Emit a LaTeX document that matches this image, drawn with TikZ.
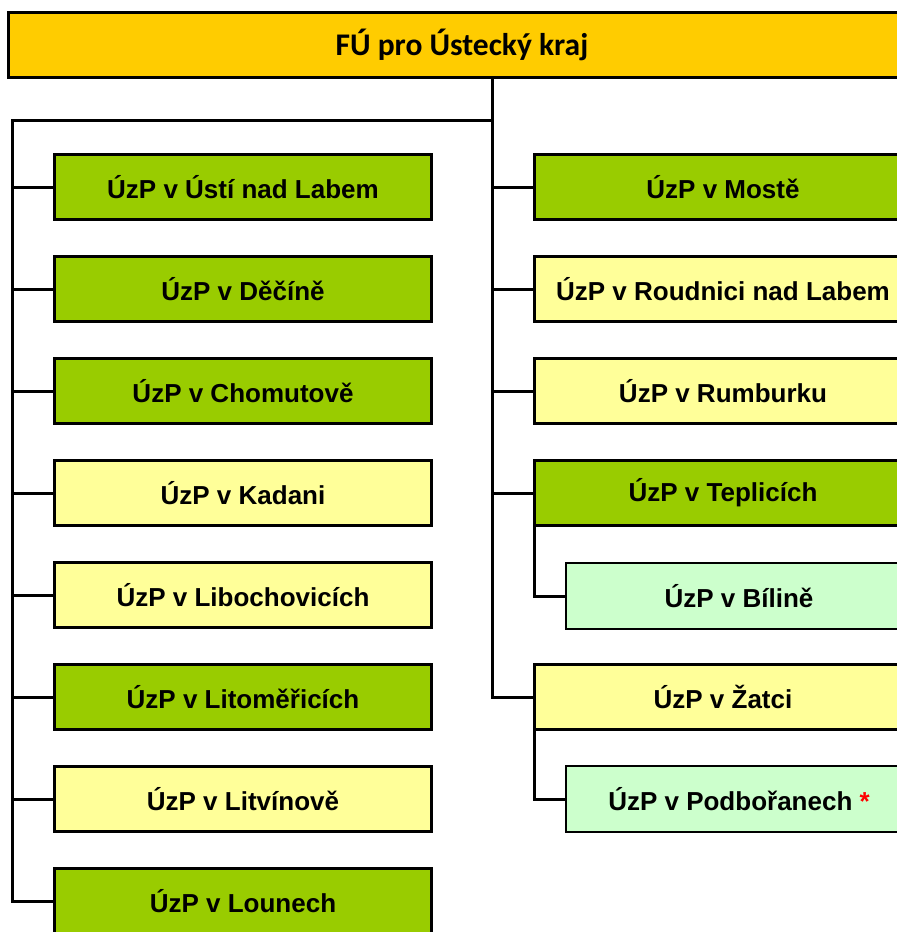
\documentclass[tikz,border=0pt]{standalone}
\usepackage{fontspec}
\setmainfont{Liberation Sans}
\newfontfamily\topfont{Carlito}
\definecolor{topc}{HTML}{FFCC00}
\definecolor{darkg}{HTML}{99CC00}
\definecolor{lighty}{HTML}{FFFF99}
\definecolor{lightg}{HTML}{CCFFCC}
\begin{document}
\begin{tikzpicture}[x=1pt,y=-1pt,
  box/.style={draw=black,line width=3pt,minimum width=377pt,minimum height=65pt,
    inner sep=0pt,outer sep=0pt,font=\fontsize{26}{30}\selectfont\bfseries,anchor=center},
  gbox/.style={box,fill=darkg},
  ybox/.style={box,fill=lighty},
  sbox/.style={box,fill=lightg,line width=2pt,minimum width=347pt,minimum height=66pt},
  conn/.style={draw=black,line width=3pt,line cap=rect}]
\clip (0,0) rectangle (897,932);
\fill[white] (0,0) rectangle (897,932);
\node[draw=black,line width=3pt,fill=topc,minimum width=907pt,minimum height=65pt,inner sep=0pt,outer sep=0pt,
  font=\topfont\fontsize{31.5}{36}\selectfont\bfseries] (fu) at (462,45) {FÚ pro Ústecký kraj};
% left column
\node[gbox] (l1) at (243,187) {ÚzP v Ústí nad Labem};
\node[gbox] (l2) at (243,289) {ÚzP v Děčíně};
\node[gbox] (l3) at (243,391) {ÚzP v Chomutově};
\node[ybox] (l4) at (243,493) {ÚzP v Kadani};
\node[ybox] (l5) at (243,595) {ÚzP v Libochovicích};
\node[gbox] (l6) at (243,697) {ÚzP v Litoměřicích};
\node[ybox] (l7) at (243,799) {ÚzP v Litvínově};
\node[gbox] (l8) at (243,901) {ÚzP v Lounech};
% right column
\node[gbox] (r1) at (723,187) {ÚzP v Mostě};
\node[ybox] (r2) at (723,289) {ÚzP v Roudnici nad Labem};
\node[ybox] (r3) at (723,391) {ÚzP v Rumburku};
\node[gbox] (r4) at (723,493) {ÚzP v Teplicích};
\node[sbox] (s1) at (739,596) {ÚzP v Bílině};
\node[ybox] (r6) at (723,697) {ÚzP v Žatci};
\node[sbox] (s2) at (739,799) {ÚzP v Podbořanech {\color{red}*}};
% connectors
\coordinate (j) at (492,120);
\coordinate (lt) at (12,120);
\draw[conn] (fu.south -| j) -- (j) -- (lt) |- (l8.west);
\foreach \n in {l1,l2,l3,l4,l5,l6,l7}{\draw[conn] (lt |- \n.west) -- (\n.west);}
\draw[conn] (j) |- (r6.west);
\foreach \n in {r1,r2,r3,r4}{\draw[conn] (j |- \n.west) -- (\n.west);}
\draw[conn] (r4.south west) |- (s1.west);
\draw[conn] (r6.south west) |- (s2.west);
\end{tikzpicture}
\end{document}
